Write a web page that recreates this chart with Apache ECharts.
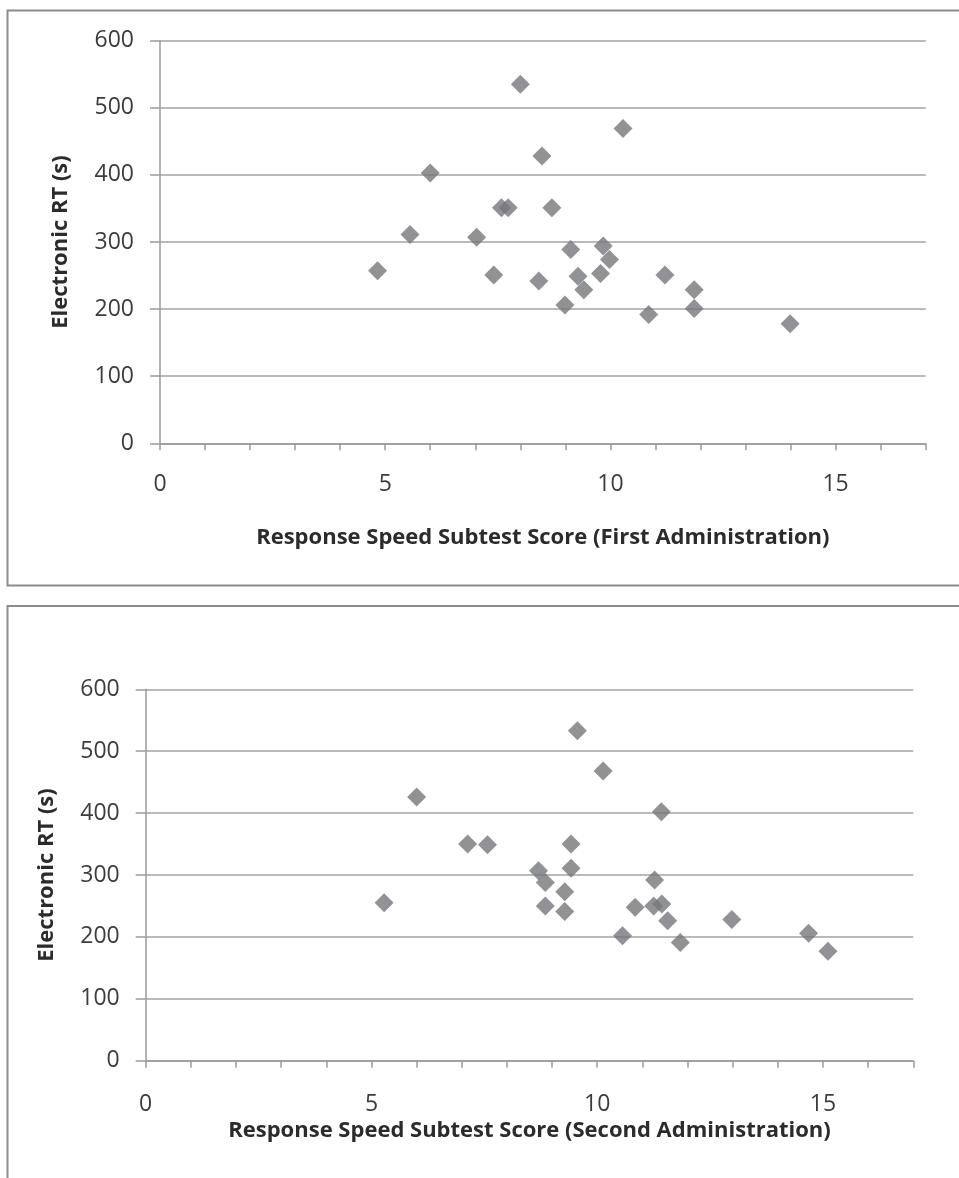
<!DOCTYPE html>
<html><head><meta charset="utf-8">
<script src="https://cdn.jsdelivr.net/npm/echarts@6/dist/echarts.min.js"></script>
<style>html,body{margin:0;padding:0;background:#fff}#c{width:959px;height:1178px}</style>
</head><body><div id="c"></div><script>
// First administration: response speed subtest score vs electronic RT (s)
const firstScore = [4.83, 5.55, 6.0, 7.03, 7.41, 7.58, 7.73, 8.0, 8.41, 8.48, 8.70, 8.99, 9.12, 9.28, 9.41, 9.78, 9.84, 9.98, 10.28, 10.85, 11.21, 11.86, 11.86, 13.99];
const firstRT    = [257, 311, 403, 307, 251, 351, 351, 535, 242, 428, 351, 206, 289, 249, 229, 253, 294, 274, 469, 192, 251, 229, 201, 178];
// Second administration
const secondScore = [5.28, 6.0, 7.13, 7.57, 8.70, 8.85, 8.85, 9.28, 9.28, 9.42, 9.42, 9.56, 10.13, 10.56, 10.84, 11.25, 11.27, 11.42, 11.43, 11.56, 11.84, 12.98, 14.68, 15.11];
const secondRT    = [255, 426, 350, 349, 307, 288, 250, 273, 241, 350, 311, 533, 468, 202, 248, 250, 292, 402, 253, 226, 191, 228, 206, 177];
const xLabelValues = [0, 5, 10, 15];
const xMin = 0, xMax = 17, xStep = 1;
const yMin = 0, yMax = 600, yStep = 100;
const xNames = ['Response Speed Subtest Score (First Administration)', 'Response Speed Subtest Score (Second Administration)'];
const yName = 'Electronic RT (s)';

const FONT = 'Open Sans';
const pts = (xs, ys) => xs.map((x, i) => [x, ys[i]]);

function xAxis(gi, name, margin, nameGap) {
  return {
    gridIndex: gi, type: 'value', min: xMin, max: xMax, interval: xStep,
    name: name, nameLocation: 'middle', nameGap: nameGap,
    nameTextStyle: {fontFamily: FONT, fontSize: 22, fontWeight: 'bold', color: '#2b2b2b'},
    axisLine: {show: true, onZero: false, lineStyle: {color: '#9a9a9a', width: 1.5}},
    axisTick: {show: true, length: 7, lineStyle: {color: '#9a9a9a', width: 1.5}},
    axisLabel: {margin: margin, fontFamily: FONT, fontSize: 23, color: '#3c3c3c',
      formatter: v => xLabelValues.indexOf(v) >= 0 ? String(v) : ''},
    splitLine: {show: false}
  };
}
function yAxis(gi, nameGap) {
  return {
    gridIndex: gi, type: 'value', min: yMin, max: yMax, interval: yStep,
    name: yName, nameLocation: 'middle', nameGap: nameGap,
    nameTextStyle: {fontFamily: FONT, fontSize: 22, fontWeight: 'bold', color: '#2b2b2b'},
    axisLine: {show: true, onZero: false, lineStyle: {color: '#9a9a9a', width: 1.5}},
    axisTick: {show: true, length: 10, lineStyle: {color: '#9a9a9a', width: 1.5}},
    axisLabel: {margin: 26, fontFamily: FONT, fontSize: 23, color: '#3c3c3c'},
    splitLine: {show: true, lineStyle: {color: '#a3a3a3', width: 1.5}}
  };
}

const chart = echarts.init(document.getElementById('c'), null, {renderer: 'canvas'});
chart.setOption({
  animation: false,
  backgroundColor: '#ffffff',
  graphic: [
    {type: 'rect', shape: {x: 7.5, y: 10.5, width: 1000, height: 575}, style: {fill: 'none', stroke: '#8c8c8c', lineWidth: 2}, z: -1},
    {type: 'rect', shape: {x: 7.5, y: 606, width: 1000, height: 700}, style: {fill: 'none', stroke: '#8c8c8c', lineWidth: 2}, z: -1}
  ],
  grid: [
    {left: 160, top: 40.7, width: 765.7, height: 402.6, containLabel: false},
    {left: 145.7, top: 689.3, width: 767.6, height: 371.4, containLabel: false}
  ],
  xAxis: [xAxis(0, xNames[0], 30, 83), xAxis(1, xNames[1], 32, 59)],
  yAxis: [yAxis(0, 88), yAxis(1, 88)],
  series: [
    {type: 'scatter', xAxisIndex: 0, yAxisIndex: 0, symbol: 'diamond', symbolSize: 19,
     itemStyle: {color: '#76777b'}, data: pts(firstScore, firstRT)},
    {type: 'scatter', xAxisIndex: 1, yAxisIndex: 1, symbol: 'diamond', symbolSize: 19,
     itemStyle: {color: '#76777b'}, data: pts(secondScore, secondRT)}
  ]
});
</script></body></html>
